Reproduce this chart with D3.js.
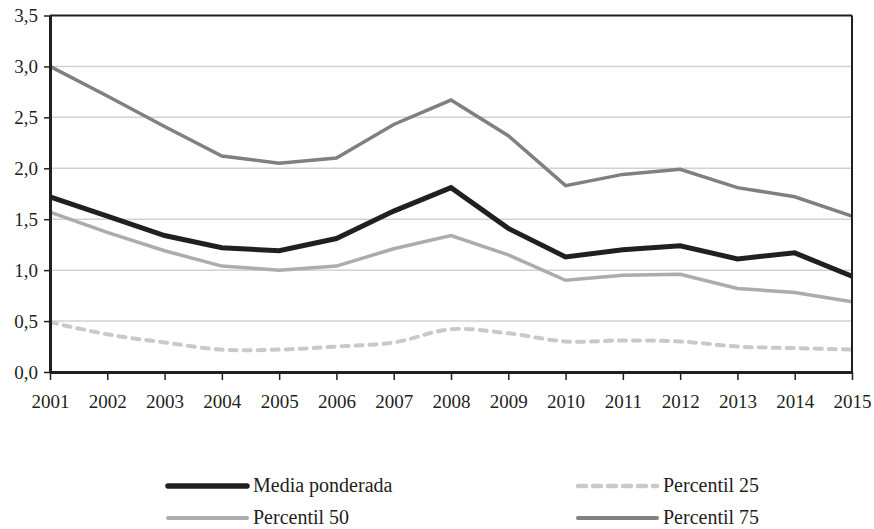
<!DOCTYPE html>
<html lang="es">
<head>
    <meta charset="UTF-8" />
    <title>Media ponderada y percentiles 2001-2015</title>
    <script src="https://d3js.org/d3.v7.min.js"></script>
    <style>
        body { margin: 0; background: #fff; }
        svg text { font-family: "Liberation Serif", "DejaVu Serif", "Times New Roman", serif; fill: #231f20; }
    </style>
</head>
<body>
<script>
    // data
    var years = [2001, 2002, 2003, 2004, 2005, 2006, 2007, 2008, 2009, 2010, 2011, 2012, 2013, 2014, 2015];
    var mediaPonderada = [1.72, 1.53, 1.34, 1.22, 1.19, 1.31, 1.58, 1.81, 1.41, 1.13, 1.20, 1.24, 1.11, 1.17, 0.94];
    var percentil25 = [0.49, 0.37, 0.29, 0.22, 0.22, 0.25, 0.29, 0.42, 0.38, 0.30, 0.31, 0.30, 0.25, 0.235, 0.22];
    var percentil50 = [1.57, 1.37, 1.19, 1.04, 1.00, 1.04, 1.21, 1.34, 1.15, 0.90, 0.95, 0.96, 0.82, 0.78, 0.69];
    var percentil75 = [3.00, 2.71, 2.41, 2.12, 2.05, 2.10, 2.43, 2.67, 2.32, 1.83, 1.94, 1.99, 1.81, 1.72, 1.53];
    var yTicks = [0, 0.5, 1, 1.5, 2, 2.5, 3, 3.5];

    var w = 874, h = 529;
    var mLeft = 50, mRight = 852, mTop = 15.5, mBottom = 372;

    var svg = d3.select("body").append("svg")
        .attr("width", w)
        .attr("height", h);

    var x = d3.scaleLinear().domain([2001, 2015]).range([mLeft, mRight]);
    var y = d3.scaleLinear().domain([0, 3.5]).range([mBottom, mTop]);

    var fmt = function (d) { return d3.format(".1f")(d).replace(".", ","); };

    // gridlines
    svg.append("g").selectAll("line")
        .data(yTicks.filter(function (d) { return d > 0 && d < 3.5; }))
        .enter().append("line")
        .attr("x1", mLeft).attr("x2", mRight)
        .attr("y1", function (d) { return y(d); })
        .attr("y2", function (d) { return y(d); })
        .attr("stroke", "#d2d2d2")
        .attr("stroke-width", 1.5);

    // series
    var series = [
        { name: "Percentil 25", values: percentil25, color: "#c9c9cb", width: 4, dash: "7,7", curve: d3.curveCatmullRom.alpha(0.5) },
        { name: "Percentil 50", values: percentil50, color: "#abacae", width: 3.5, dash: null, curve: d3.curveLinear },
        { name: "Percentil 75", values: percentil75, color: "#808082", width: 3.5, dash: null, curve: d3.curveLinear },
        { name: "Media ponderada", values: mediaPonderada, color: "#231f20", width: 5, dash: null, curve: d3.curveLinear }
    ];

    series.forEach(function (s) {
        var line = d3.line()
            .x(function (d, i) { return x(years[i]); })
            .y(function (d) { return y(d); })
            .curve(s.curve);
        svg.append("path")
            .datum(s.values)
            .attr("d", line)
            .attr("fill", "none")
            .attr("stroke", s.color)
            .attr("stroke-width", s.width)
            .attr("stroke-linejoin", "miter")
            .attr("stroke-linecap", s.dash ? "round" : "butt")
            .attr("stroke-dasharray", s.dash);
    });

    // frame
    svg.append("line").attr("x1", mLeft).attr("x2", mRight).attr("y1", mTop).attr("y2", mTop)
        .attr("stroke", "#231f20").attr("stroke-width", 2);
    svg.append("line").attr("x1", mRight).attr("x2", mRight).attr("y1", mTop).attr("y2", mBottom)
        .attr("stroke", "#231f20").attr("stroke-width", 2);

    // axes
    var xAxis = d3.axisBottom(x)
        .tickValues(years)
        .tickFormat(d3.format("d"))
        .tickSize(8)
        .tickSizeOuter(0);
    var gx = svg.append("g").attr("transform", "translate(0," + mBottom + ")").call(xAxis);
    gx.attr("font-family", null);
    gx.select(".domain").attr("stroke", "#231f20").attr("stroke-width", 3);
    gx.selectAll(".tick line").attr("stroke", "#231f20").attr("stroke-width", 1.5);
    gx.selectAll(".tick text")
        .attr("y", 23)
        .attr("dy", "0.71em")
        .style("font-size", "19px");

    var yAxis = d3.axisLeft(y)
        .tickValues(yTicks)
        .tickFormat(fmt)
        .tickSize(6)
        .tickSizeOuter(0);
    var gy = svg.append("g").attr("transform", "translate(" + mLeft + ",0)").call(yAxis);
    gy.attr("font-family", null);
    gy.select(".domain").attr("stroke", "#231f20").attr("stroke-width", 3);
    gy.selectAll(".tick line").attr("stroke", "#231f20").attr("stroke-width", 1.5);
    gy.selectAll(".tick text")
        .attr("x", -12)
        .style("font-size", "19px");

    // legend
    var legendItems = [
        { s: series[3], x: 168, y: 486 },
        { s: series[0], x: 578, y: 486 },
        { s: series[1], x: 168, y: 518 },
        { s: series[2], x: 578, y: 518 }
    ];
    var lg = svg.append("g").selectAll("g")
        .data(legendItems)
        .enter().append("g")
        .attr("transform", function (d) { return "translate(" + d.x + "," + d.y + ")"; });
    lg.append("line")
        .attr("x1", 0).attr("x2", 79)
        .attr("stroke", function (d) { return d.s.color; })
        .attr("stroke-width", function (d) { return d.s.width + 0.5; })
        .attr("stroke-linecap", "round")
        .attr("stroke-dasharray", function (d) { return d.s.dash ? "8,7" : null; });
    lg.append("text")
        .attr("x", 85)
        .attr("y", 6)
        .style("font-size", "20px")
        .text(function (d) { return d.s.name; });
</script>
</body>
</html>
